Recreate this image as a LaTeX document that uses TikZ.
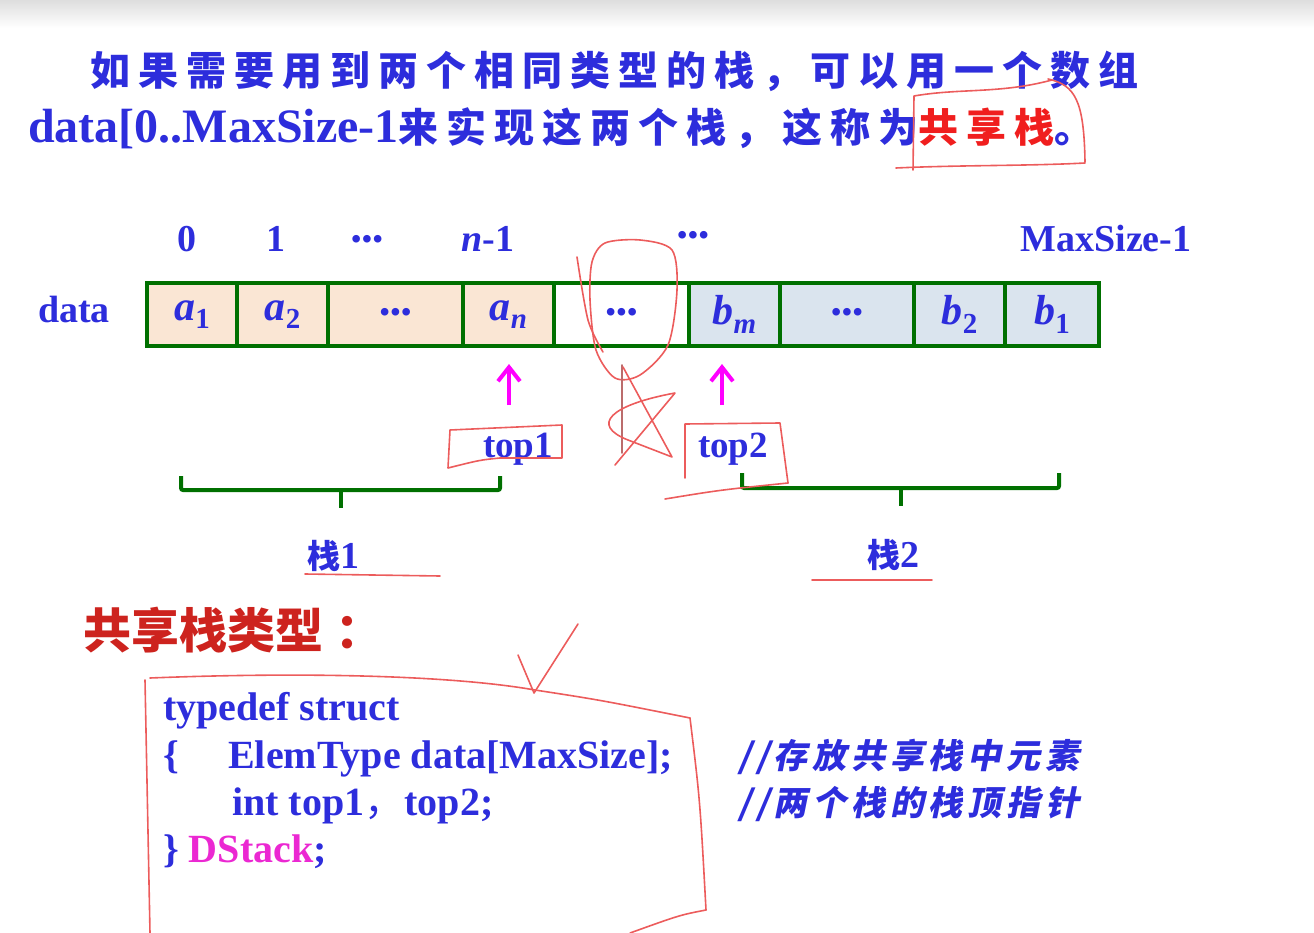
\documentclass[tikz,border=0pt]{standalone}
\usepackage{fontspec}
\setmainfont{Liberation Serif}
\newfontfamily\cjk[LetterSpace=20]{Noto Sans CJK SC}
\newfontfamily\cjkhead{Noto Sans CJK SC}
\newfontfamily\cjkit[FakeSlant=0.2,LetterSpace=14]{Noto Sans CJK SC}
\usetikzlibrary{arrows.meta,positioning}

\definecolor{titleblue}{RGB}{45,45,220}
\definecolor{arraygreen}{RGB}{0,112,0}
\definecolor{apeach}{RGB}{250,230,212}
\definecolor{bgray}{RGB}{218,228,238}
\definecolor{ptrpink}{RGB}{255,0,255}
\definecolor{headred}{RGB}{205,35,30}
\definecolor{keyred}{RGB}{240,30,30}
\definecolor{penred}{RGB}{236,92,92}
\definecolor{dstack}{RGB}{235,40,210}

\newcommand\fsz[1]{\fontsize{#1}{#1}\selectfont}
\newcommand\elem[2]{#1\raisebox{-0.45ex}{\fsz{29}#2}}
\newcommand\dts{{\upshape\fsz{28}\textbullet\hspace{1pt}\textbullet\hspace{1pt}\textbullet}}

\tikzset{
  cell/.style={draw=arraygreen, line width=4pt, minimum height=63pt,
    inner sep=0pt, text=titleblue, font=\fsz{42}\bfseries\itshape},
  idx/.style={anchor=base, inner sep=0pt, text=titleblue, font=\fsz{38}\bfseries},
  code/.style={anchor=base west, inner sep=0pt, text=titleblue, font=\fsz{40}\bfseries},
  note/.style={anchor=base west, inner sep=0pt, text=titleblue, font=\cjkit\bfseries\fsz{34}},
  ptr/.style={-{Straight Barb[length=14pt,width=22pt]}, ptrpink, line width=4pt},
  brace/.style={arraygreen, line width=4pt, rounded corners=2pt},
  pen/.style={penred, line width=1.6pt, line cap=round, line join=round}
}

\begin{document}
\begin{tikzpicture}[x=1pt, y=-1pt]
\useasboundingbox (0,0) rectangle (1314,933);
\shade[top color=black!13, bottom color=white] (0,0) rectangle (1314,28);

% title
\node[anchor=base west, inner sep=0pt, text=titleblue] (line1) at (90,86)
  {\cjk\bfseries\fsz{40}如果需要用到两个相同类型的栈，可以用一个数组};
\node[anchor=base west, inner sep=0pt, text=titleblue] (line2) at (28,143)
  {\fsz{48}\bfseries data[0..MaxSize-1\cjk\fsz{40}来实现这两个栈，这称为\textcolor{keyred}{共享栈}。};

% indices
\node[idx] (i0) at (187,252) {0};
\node[idx] (i1) at (276,252) {1};
\node[idx] (i2) at (367,249) {\dts};
\node[idx] (in) at (488,252) {\textit{n}-1};
\node[idx] (i3) at (693,245) {\dts};
\node[idx] (imax) at (1106,252) {MaxSize-1};

% array
\node[idx] (data) at (74,322) {data};
\node[cell, fill=apeach, minimum width=90pt] (a1) at (192,314.5) {\elem{a}{\upshape 1}};
\node[cell, fill=apeach, minimum width=91pt] (a2) at (282.5,314.5) {\elem{a}{\upshape 2}};
\node[cell, fill=apeach, minimum width=135pt] (adots) at (395.5,314.5) {\dts};
\node[cell, fill=apeach, minimum width=91pt] (an) at (508.5,314.5) {\elem{a}{n}};
\node[cell, fill=white, minimum width=135pt] (free) at (621.5,314.5) {\dts};
\node[cell, fill=bgray, minimum width=91pt] (bm) at (734.5,314.5) {\elem{b}{m}};
\node[cell, fill=bgray, minimum width=134pt] (bdots) at (847,314.5) {\dts};
\node[cell, fill=bgray, minimum width=91pt] (b2) at (959.5,314.5) {\elem{b}{\upshape 2}};
\node[cell, fill=bgray, minimum width=94pt] (b1) at (1052,314.5) {\elem{b}{\upshape 1}};

% stack tops
\coordinate (p1) at (509,405);
\coordinate (p2) at (722,405);
\draw[ptr, shorten >=16pt] (p1) -- (p1 |- an.south);
\draw[ptr, shorten >=16pt] (p2) -- (p2 |- bm.south);
\node[idx, font=\fsz{37}\bfseries] (top1) at (518,457) {top1};
\node[idx, font=\fsz{37}\bfseries] (top2) at (733,457) {top2};

% braces
\draw[brace] (181,476) |- (500,490) -- (500,476);
\draw[brace] (341,490) -- (341,508);
\draw[brace] (742,473) |- (1059,488) -- (1059,473);
\draw[brace] (901,488) -- (901,506);
\node[idx] (s1) at (333,568) {{\cjkhead\fsz{33}栈}1};
\node[idx] (s2) at (893,567) {{\cjkhead\fsz{33}栈}2};

% type
\node[anchor=base west, inner sep=0pt, text=headred] (head) at (83,648)
  {\cjkhead\bfseries\fsz{48}共享栈类型\hspace{12pt}：};
\node[code] (c1) at (163,720) {typedef struct};
\node[code] (c2) at (163,768) {\{};
\node[code] (c3) at (228,768) {ElemType data[MaxSize];};
\node[code] (c4) at (232,815) {int top1{\cjkhead\mdseries ，}top2;};
\node[code] (c5) at (163,862) {\}~\textcolor{dstack}{DStack};};
\node[note] (n1) at (738,768) {//存放共享栈中元素};
\node[note] (n2) at (738,815) {//两个栈的栈顶指针};

% handwriting
\draw[pen] (913,170) -- (914,96) .. controls (960,88) and (1000,94) .. (1052,80);
\draw[pen] (1048,79) .. controls (1075,85) and (1084,100) .. (1085,162);
\draw[pen] (896,168) .. controls (960,165) and (1030,166) .. (1085,163);
\draw[pen] plot[smooth cycle] coordinates {(592,262) (605,243) (640,240) (672,250)
  (677,290) (668,345) (640,375) (615,378) (596,350) (590,300)};
\draw[pen] plot[smooth] coordinates {(577,257) (588,320) (603,352)};
\draw[pen, penred!55!gray] (622,365) -- (622,453);
\draw[pen] (623,367) -- (672,457) -- (628,440) .. controls (590,425) and (610,405) .. (675,393) -- (615,465);
\draw[pen] (450,430) -- (562,425) -- (562,458) -- (500,458) .. controls (480,460) .. (448,468) -- cycle;
\draw[pen] (685,478) -- (685,424) -- (780,423) -- (788,483);
\draw[pen] (665,499) .. controls (720,490) .. (788,483);
\draw[pen] (305,574) -- (440,576);
\draw[pen] (812,580) -- (932,580);
\draw[pen] (518,655) -- (534,693) -- (578,624);
\draw[pen] (145,680) -- (150,933);
\draw[pen] (150,678) .. controls (300,672) and (450,675) .. (535,690) .. controls (600,700) .. (690,718);
\draw[pen] (690,718) .. controls (700,800) .. (706,910);
\draw[pen] (706,910) .. controls (680,915) .. (630,933);
\end{tikzpicture}
\end{document}
